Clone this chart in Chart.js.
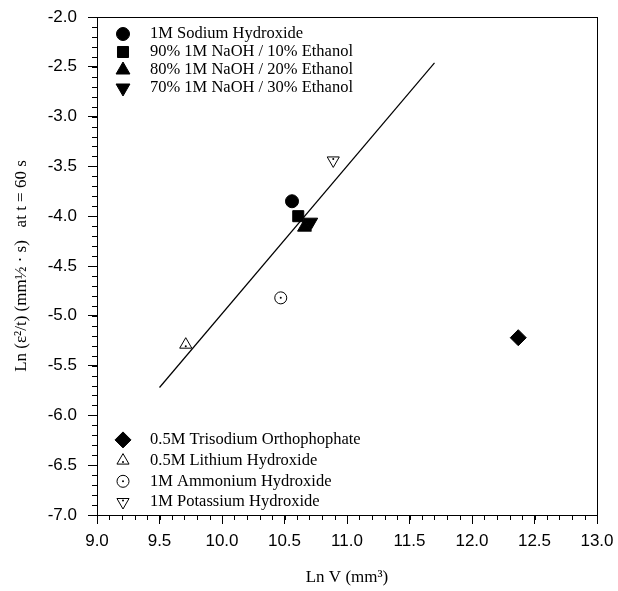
<!DOCTYPE html>
<html>
<head>
<meta charset="utf-8">
<script src="https://cdn.jsdelivr.net/npm/chart.js@4.4.0/dist/chart.umd.min.js"></script>
<style>
  html, body { margin: 0; padding: 0; background: #fff; }
  #wrap { width: 618px; height: 591px; }
</style>
</head>
<body>
<div id="wrap"><canvas id="chart" width="618" height="591"></canvas></div>
<script>
// Datos
const seriesLabels = [
    "1M Sodium Hydroxide",
    "90% 1M NaOH / 10% Ethanol",
    "80% 1M NaOH / 20% Ethanol",
    "70% 1M NaOH / 30% Ethanol",
    "0.5M Trisodium Orthophophate",
    "0.5M Lithium Hydroxide",
    "1M Ammonium Hydroxide",
    "1M Potassium Hydroxide"
];
const seriesX = [10.56, 10.61, 10.66, 10.71, 12.37, 9.71, 10.47, 10.89];
const seriesY = [-3.85, -4.00, -4.11, -4.06, -5.22, -5.29, -4.82, -3.44];

// Recta de ajuste
const fitX = [9.5, 11.7];
const fitY = [-5.72, -2.46];

// Ejes
const xMin = 9.0, xMax = 13.0, xStep = 0.5;
const yMin = -7.0, yMax = -2.0, yStep = 0.5;
const minorStep = 0.1;

// Estilo de cada serie (marcador, relleno, grupo de leyenda)
const markerStyles = [
    { pointStyle: "circle",   radius: 6.5, rotation: 0,   filled: true,  dot: false, group: "top" },
    { pointStyle: "rect",     radius: 7.8, rotation: 0,   filled: true,  dot: false, group: "top" },
    { pointStyle: "triangle", radius: 8,   rotation: 0,   filled: true,  dot: false, group: "top" },
    { pointStyle: "triangle", radius: 8,   rotation: 180, filled: true,  dot: false, group: "top" },
    { pointStyle: "rectRot",  radius: 8,   rotation: 0,   filled: true,  dot: false, group: "bottom" },
    { pointStyle: "triangle", radius: 7,   rotation: 0,   filled: false, dot: true,  group: "bottom" },
    { pointStyle: "circle",   radius: 6,   rotation: 0,   filled: false, dot: true,  group: "bottom" },
    { pointStyle: "triangle", radius: 7,   rotation: 180, filled: false, dot: true,  group: "bottom" }
];

const serif = "'Liberation Serif', 'Times New Roman', serif";
const sans = "'Liberation Sans', Arial, sans-serif";

// Construir los datasets
const datasets = seriesLabels.map((label, i) => {
    const st = markerStyles[i];
    return {
        label: label,
        data: [{ x: seriesX[i], y: seriesY[i] }],
        pointStyle: st.pointStyle,
        pointRadius: st.radius,
        pointRotation: st.rotation,
        pointBackgroundColor: st.filled ? "#000" : "#fff",
        pointBorderColor: "#000",
        pointBorderWidth: 1,
        showLine: false
    };
});
datasets.push({
    label: "fit",
    data: fitX.map((x, i) => ({ x: x, y: fitY[i] })),
    showLine: true,
    borderColor: "#000",
    borderWidth: 1.2,
    pointRadius: 0
});

// Quitar el relleno automático de las escalas para fijar el área exacta
function sinRelleno(scale) {
    scale.paddingTop = 0;
    scale.paddingBottom = 0;
    scale.paddingLeft = 0;
    scale.paddingRight = 0;
}

// Punto central de los símbolos abiertos
function centerDot(ctx, st, x, y) {
    let dy = 0;
    if (st.pointStyle === "triangle") dy = st.rotation ? -1.5 : 1.5;
    ctx.beginPath();
    ctx.arc(x, y + dy, 1, 0, Math.PI * 2);
    ctx.fill();
}

// Plugin: marco, ticks menores, puntos centrales y leyendas dentro del área
const extrasPlugin = {
    id: "extras",
    afterDraw(chart) {
        const ctx = chart.ctx;
        const area = chart.chartArea;
        const xs = chart.scales.x;
        const ys = chart.scales.y;
        ctx.save();

        // marco
        ctx.strokeStyle = "#000";
        ctx.lineWidth = 1;
        ctx.strokeRect(area.left + 0.5, area.top + 0.5, area.right - area.left, area.bottom - area.top);

        // ticks menores
        ctx.beginPath();
        const nx = Math.round((xMax - xMin) / minorStep);
        for (let k = 0; k <= nx; k++) {
            const px = Math.round(xs.getPixelForValue(xMin + k * minorStep)) + 0.5;
            ctx.moveTo(px, area.bottom);
            ctx.lineTo(px, area.bottom + 5);
        }
        const ny = Math.round((yMax - yMin) / minorStep);
        for (let k = 0; k <= ny; k++) {
            const py = Math.round(ys.getPixelForValue(yMin + k * minorStep)) + 0.5;
            ctx.moveTo(area.left, py);
            ctx.lineTo(area.left - 5, py);
        }
        ctx.stroke();

        // puntos centrales en los datos
        ctx.fillStyle = "#000";
        markerStyles.forEach((st, i) => {
            if (!st.dot) return;
            chart.getDatasetMeta(i).data.forEach((el) => centerDot(ctx, st, el.x, el.y));
        });

        // leyendas
        ctx.font = "16.5px " + serif;
        ctx.textBaseline = "middle";
        ctx.textAlign = "left";
        const drawEntry = (i, y) => {
            const st = markerStyles[i];
            const mx = area.left + 26;
            ctx.fillStyle = st.filled ? "#000" : "#fff";
            ctx.strokeStyle = "#000";
            ctx.lineWidth = 1;
            Chart.helpers.drawPoint(ctx, {
                pointStyle: st.pointStyle,
                radius: st.radius,
                rotation: st.rotation,
                borderWidth: 1
            }, mx, y);
            ctx.fillStyle = "#000";
            if (st.dot) centerDot(ctx, st, mx, y);
            ctx.fillText(seriesLabels[i], area.left + 53, y);
        };
        const topIdx = markerStyles.map((s, i) => i).filter((i) => markerStyles[i].group === "top");
        const botIdx = markerStyles.map((s, i) => i).filter((i) => markerStyles[i].group === "bottom");
        topIdx.forEach((i, k) => drawEntry(i, area.top + 17 + k * 18));
        botIdx.forEach((i, k) => drawEntry(i, area.bottom - 13 - (botIdx.length - 1 - k) * 20.7));

        ctx.restore();
    }
};

const ctx = document.getElementById("chart").getContext("2d");
new Chart(ctx, {
    type: "scatter",
    data: { datasets: datasets },
    options: {
        responsive: false,
        animation: false,
        layout: { padding: { top: 17, right: 21, left: 0, bottom: 0 } },
        plugins: {
            legend: { display: false },
            tooltip: { enabled: false }
        },
        scales: {
            x: {
                type: "linear",
                min: xMin,
                max: xMax,
                afterFit: (scale) => { scale.height = 76; sinRelleno(scale); },
                ticks: {
                    stepSize: xStep,
                    color: "#000",
                    font: { family: sans, size: 17 },
                    padding: 7,
                    maxRotation: 0,
                    callback: (v) => v.toFixed(1)
                },
                grid: { drawOnChartArea: false, tickLength: 9, color: "#000" },
                border: { color: "#000" },
                title: {
                    display: true,
                    text: "Ln V (mm³)",
                    color: "#000",
                    font: { family: serif, size: 17 },
                    padding: { top: 0, bottom: 3 }
                }
            },
            y: {
                type: "linear",
                min: yMin,
                max: yMax,
                afterFit: (scale) => { scale.width = 97; sinRelleno(scale); },
                ticks: {
                    stepSize: yStep,
                    color: "#000",
                    font: { family: sans, size: 17 },
                    padding: 11,
                    callback: (v) => v.toFixed(1)
                },
                grid: { drawOnChartArea: false, tickLength: 9, color: "#000" },
                border: { color: "#000" },
                title: {
                    display: true,
                    text: "Ln (ε²/t) (mm½ · s)   at t = 60 s",
                    color: "#000",
                    font: { family: serif, size: 17 },
                    padding: { top: 11, bottom: 0 }
                }
            }
        }
    },
    plugins: [extrasPlugin]
});
</script>
</body>
</html>
